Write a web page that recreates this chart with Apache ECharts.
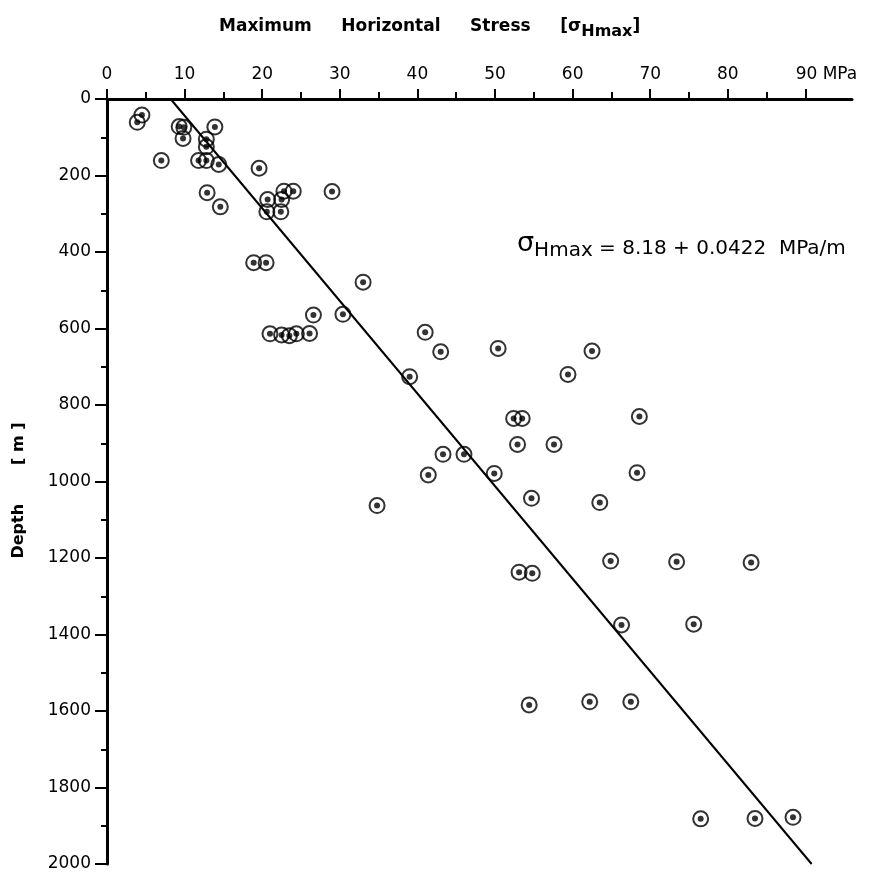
<!DOCTYPE html>
<html>
<head>
<meta charset="utf-8">
<script src="https://cdn.jsdelivr.net/npm/echarts@6/dist/echarts.min.js"></script>
<style>
	html, body { margin: 0; padding: 0; background: #fff; }
	#myCharts { width: 881px; height: 882px; }
</style>
</head>
<body>
<div id="myCharts"></div>
<script>
	const stressMPa = [
		4.5, 3.9, 9.3, 9.9, 9.8, 13.9, 12.8, 12.8, 7.0, 11.8, 12.8, 14.4, 19.6, 12.9, 14.6,
		22.8, 24.0, 20.7, 22.5, 20.6, 22.4, 29.0, 18.9, 20.5, 33.0, 26.6, 30.4,
		21.0, 22.5, 23.5, 24.4, 26.1, 41.0, 43.0, 39.0, 43.3, 46.0, 41.4, 34.8,
		50.4, 62.5, 59.4, 52.4, 53.5, 68.6, 52.9, 57.6, 49.9, 68.3,
		54.7, 63.5, 64.9, 73.4, 83.0, 53.1, 54.8, 66.3, 75.6,
		54.4, 62.2, 67.5, 76.5, 83.5, 88.4
	];
	const depthM = [
		42, 61, 72, 74, 103, 73, 105, 125, 161, 161, 161, 171, 181, 245, 282,
		241, 241, 263, 263, 295, 295, 242, 428, 428, 479, 565, 563,
		614, 617, 619, 614, 613, 610, 661, 726, 929, 929, 983, 1063,
		652, 659, 720, 835, 835, 830, 903, 903, 979, 977,
		1044, 1055, 1208, 1210, 1212, 1237, 1240, 1375, 1373,
		1584, 1576, 1576, 1882, 1881, 1878
	];
	// regression line end points as drawn
	const fitStress = [8.2, 90.8];
	const fitDepth = [0, 2000];

	const xMajor = [0, 10, 20, 30, 40, 50, 60, 70, 80, 90];
	const xMinor = [5, 15, 25, 35, 45, 55, 65, 75, 85];
	const yMajor = [0, 200, 400, 600, 800, 1000, 1200, 1400, 1600, 1800, 2000];
	const yMinor = [100, 300, 500, 700, 900, 1100, 1300, 1500, 1700, 1900];

	const points = stressMPa.map(function (s, i) { return [s, depthM[i]]; });
	const fitLine = fitStress.map(function (s, i) { return [s, fitDepth[i]]; });

	const font = 'DejaVu Sans';
	let mychart = echarts.init(document.getElementById('myCharts'));

	let option = {
		animation: false,
		backgroundColor: '#fff',
		textStyle: { fontFamily: font, color: '#000' },
		title: [{
			left: 214,
			top: 9,
			text: '{a|Maximum     Horizontal     Stress     [σ}{s|Hmax}{a|]}',
			textStyle: {
				rich: {
					a: { fontFamily: font, fontSize: 17, color: '#000', fontWeight: 'bold' },
					s: { fontFamily: font, fontSize: 16, color: '#000', fontWeight: 'bold', padding: [10, 0, 0, 0] }
				}
			}
		}, {
			left: 512,
			top: 222,
			text: '{g|σ}{s|Hmax}{a| = 8.18 + 0.0422  MPa/m}',
			textStyle: {
				fontWeight: 'normal',
				rich: {
					g: { fontFamily: font, fontSize: 27, fontWeight: 'normal', color: '#000' },
					s: { fontFamily: font, fontSize: 20, fontWeight: 'normal', color: '#000', padding: [14, 0, 0, 0] },
					a: { fontFamily: font, fontSize: 20, fontWeight: 'normal', color: '#000', padding: [9, 0, 0, 0] }
				}
			}
		}],
		grid: { left: 107, top: 99, right: 29, bottom: 18, containLabel: false },
		xAxis: [{
			type: 'value',
			position: 'top',
			min: 0,
			max: 96,
			axisLine: { show: true, onZero: false, lineStyle: { color: '#000', width: 3 } },
			axisTick: { show: true, length: 10, customValues: xMajor, lineStyle: { color: '#000', width: 2 } },
			axisLabel: {
				customValues: xMajor,
				margin: 16,
				fontSize: 17,
				color: '#000',
				formatter: function (v) {
					return v === 90 ? '{u|90 MPa}' : String(v);
				},
				rich: { u: { fontFamily: font, fontSize: 17, color: '#000', padding: [0, 0, 0, 42] } }
			},
			splitLine: { show: false }
		}, {
			type: 'value',
			position: 'top',
			min: 0,
			max: 96,
			axisLine: { show: false },
			axisTick: { show: true, length: 7, customValues: xMinor, lineStyle: { color: '#000', width: 2 } },
			axisLabel: { show: false },
			splitLine: { show: false }
		}],
		yAxis: [{
			type: 'value',
			position: 'left',
			inverse: true,
			min: 0,
			max: 2000,
			name: 'Depth       [ m ]',
			nameLocation: 'middle',
			nameRotate: 90,
			nameGap: 80,
			nameTextStyle: { fontSize: 16, fontWeight: 'bold', color: '#000', padding: [0, 18, 0, 0] },
			axisLine: { show: true, onZero: false, lineStyle: { color: '#000', width: 3 } },
			axisTick: { show: true, length: 12, customValues: yMajor, lineStyle: { color: '#000', width: 2 } },
			axisLabel: {
				customValues: yMajor,
				margin: 16,
				fontSize: 17,
				color: '#000',
				formatter: function (v) { return String(v); }
			},
			splitLine: { show: false }
		}, {
			type: 'value',
			position: 'left',
			inverse: true,
			min: 0,
			max: 2000,
			axisLine: { show: false },
			axisTick: { show: true, length: 6, customValues: yMinor, lineStyle: { color: '#000', width: 2 } },
			axisLabel: { show: false },
			splitLine: { show: false }
		}],
		series: [{
			type: 'line',
			data: fitLine,
			symbol: 'none',
			lineStyle: { color: '#000', width: 2 },
			z: 1
		}, {
			type: 'scatter',
			data: points,
			symbol: 'circle',
			symbolSize: 15,
			itemStyle: { color: 'rgba(0,0,0,0)', borderColor: '#000', borderWidth: 2 },
			z: 2
		}, {
			type: 'scatter',
			data: points,
			symbol: 'circle',
			symbolSize: 6,
			itemStyle: { color: '#000' },
			z: 3
		}]
	};

	mychart.setOption(option);
	window.onresize = mychart.resize;
</script>
</body>
</html>
